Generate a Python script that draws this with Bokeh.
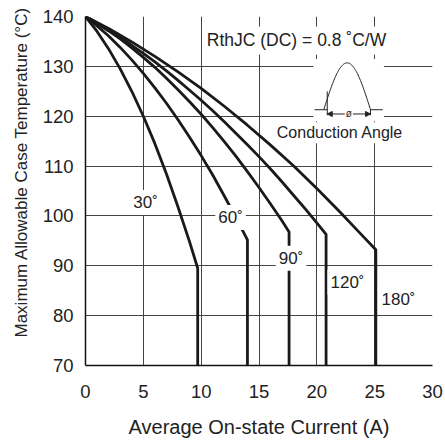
import numpy as np
from bokeh.plotting import figure
from bokeh.models import Label, FixedTicker, Range1d, Arrow, NormalHead, Title
from bokeh.embed import file_html
from bokeh.resources import INLINE

# ---------------- data ----------------
x_ticks = [0, 5, 10, 15, 20, 25, 30]
y_ticks = [70, 80, 90, 100, 110, 120, 130, 140]

cur_30 = [0, 1, 2, 3, 4, 5, 6, 7, 8, 9, 9.7, 9.7]
tc_30 = [140, 137.0, 133.5, 129.5, 125.0, 120.0, 114.5, 108.4, 101.8, 94.8, 89.5, 70]

cur_60 = [0, 1, 2, 3, 4, 5, 6, 7, 8, 9, 10, 11, 12, 13, 13.6, 14.0, 14.0]
tc_60 = [140, 138.1, 136.1, 133.8, 131.3, 128.6, 125.7, 122.6, 119.3, 115.8, 112.1,
         108.2, 104.0, 99.7, 97.0, 95.2, 70]

cur_90 = [0, 1, 2, 3, 4, 5, 6, 7, 8, 9, 10, 11, 12, 13, 14, 15, 16, 17, 17.6, 17.6]
tc_90 = [140, 138.6, 137.1, 135.5, 133.7, 131.8, 129.8, 127.6, 125.3, 122.9, 120.4,
         117.7, 114.9, 112.0, 108.9, 105.7, 102.4, 99.0, 96.8, 70]

cur_120 = [0, 1, 2, 3, 4, 5, 6, 7, 8, 9, 10, 11, 12, 13, 14, 15, 16, 17, 18, 19, 20, 20.8, 20.8]
tc_120 = [140, 138.7, 137.3, 135.8, 134.2, 132.6, 130.9, 129.1, 127.2, 125.2, 123.2,
          121.1, 118.9, 116.6, 114.3, 111.9, 109.4, 106.8, 104.1, 101.4, 98.6, 96.3, 70]

cur_180 = [0, 2, 4, 6, 8, 10, 12, 14, 16, 18, 20, 22, 24, 25.1, 25.1]
tc_180 = [140, 137.6, 134.9, 132.0, 128.9, 125.6, 122.0, 118.2, 114.2, 110.0, 105.5,
          100.8, 95.9, 93.2, 70]

angle_labels = ["30˚", "60˚", "90˚", "120˚", "180˚"]

FONT = "Liberation Sans"
TXT = "#222222"
LINE = "#1a1a1a"

p = figure(width=445, height=440, x_range=Range1d(0, 30), y_range=Range1d(70, 140),
           output_backend="svg", toolbar_location=None,
           min_border_left=85, min_border_right=13, min_border_top=16, min_border_bottom=75)
p.outline_line_color = None
p.background_fill_color = "white"
p.border_fill_color = "white"

for ax in (p.xaxis[0], p.yaxis[0]):
    ax.major_tick_in = 0
    ax.major_tick_out = 0
    ax.minor_tick_in = 0
    ax.minor_tick_out = 0
    ax.axis_line_color = "#111111"
    ax.axis_line_width = 1.5
    ax.major_label_text_font = FONT
    ax.major_label_text_font_size = "18.5px"
    ax.major_label_text_color = TXT
p.xaxis.ticker = FixedTicker(ticks=x_ticks)
p.yaxis.ticker = FixedTicker(ticks=y_ticks)
p.xaxis.major_label_standoff = 19
p.yaxis.major_label_standoff = 12
p.xaxis.axis_label = "Average On-state Current (A)"
p.xaxis.axis_label_standoff = 15
p.xaxis.axis_label_text_font = FONT
p.xaxis.axis_label_text_font_size = "20px"
p.xaxis.axis_label_text_font_style = "normal"
p.xaxis.axis_label_text_color = TXT
p.xgrid.ticker = FixedTicker(ticks=x_ticks[1:])
p.ygrid.ticker = FixedTicker(ticks=y_ticks[1:-1])
p.grid.grid_line_color = "#444444"
p.grid.grid_line_width = 1

p.add_layout(Title(text="Maximum Allowable Case Temperature (°C)", align="left", offset=28,
                   standoff=18, text_font=FONT, text_font_size="17px", text_font_style="normal",
                   text_color=TXT), "left")

# curves
for cx, cy in [(cur_30, tc_30), (cur_60, tc_60), (cur_90, tc_90), (cur_120, tc_120), (cur_180, tc_180)]:
    p.line(cx, cy, line_color=LINE, line_width=2.8, line_join="round")

# white mask behind the inset sketch
p.quad(left=19.7, right=25.8, bottom=119.0, top=131.5, fill_color="white", line_color=None)

# inset sketch: half-wave and conduction angle
t = np.linspace(0, np.pi, 80)
hx0, hx1, base, amp = 20.6, 24.64, 121.3, 9.4
p.line(hx0 + (hx1 - hx0) * t / np.pi, base + amp * np.sin(t), line_color=TXT, line_width=1)
fire_x = 20.9
fire_y = base + amp * np.sin(np.pi * (fire_x - hx0) / (hx1 - hx0))
p.segment(x0=[fire_x, hx1, 19.8, hx1], y0=[120.2, 120.2, base, base],
          x1=[fire_x, hx1, fire_x, 25.7], y1=[fire_y + 1.5, base, base, base],
          line_color=TXT, line_width=1)
mid = (fire_x + hx1) / 2
for xe in (fire_x, hx1):
    p.add_layout(Arrow(end=NormalHead(size=5, fill_color=TXT, line_color=TXT, line_width=1),
                       x_start=mid, y_start=120.45, x_end=xe, y_end=120.45,
                       line_color=TXT, line_width=1))
p.add_layout(Label(x=mid, y=120.45, text="ø", text_align="center", text_baseline="middle",
                   text_font=FONT, text_font_size="10px", text_color=TXT,
                   background_fill_color="white", padding=1))

def lab(x, y, text, size="17px", pad=2):
    p.add_layout(Label(x=x, y=y, text=text, text_align="center", text_baseline="middle",
                       text_font=FONT, text_font_size=size, text_color=TXT,
                       background_fill_color="white", padding=pad))

lab(18.24, 135.2, "RthJC (DC) = 0.8 ˚C/W", size="17.5px", pad=4)
lab(22.0, 116.7, "Conduction Angle", size="16px")
for (lx, ly), txt in zip([(5.19, 102.7), (12.54, 99.7), (17.77, 91.5), (22.65, 86.7), (27.06, 83.2)],
                         angle_labels):
    lab(lx, ly, txt, pad=3)

open("out.html", "w").write(file_html(p, INLINE))
